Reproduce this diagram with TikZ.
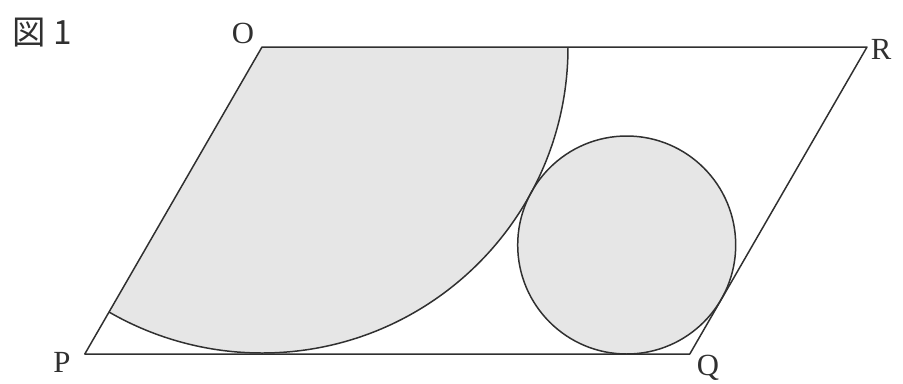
\documentclass[tikz,border=0pt]{standalone}
\usepackage{fontspec}
\setmainfont{Liberation Serif}
\newfontfamily\cjk{Noto Sans CJK JP}
\definecolor{areafill}{HTML}{E6E6E6}
\definecolor{ink}{HTML}{303030}
\begin{document}
\begin{tikzpicture}[x=0.02cm,y=-0.02cm,
  edge/.style={draw=ink,line width=0.85pt,line join=round},
  ptlabel/.style={font=\fontsize{17.5}{18}\selectfont,text=ink,inner sep=0pt}]
\useasboundingbox (0,0) rectangle (903,383);
\coordinate (O) at (262,47);
\coordinate (R) at (867,47);
\coordinate (P) at (84.8,354);
\coordinate (Q) at (689.8,354);
\coordinate (C) at (626.7,245);
% shaded regions
\fill[areafill] (O) -- ++(306,0) arc[start angle=0,end angle=120,radius=306] -- cycle;
\fill[areafill] (C) circle[radius=109];
% outlines
\draw[edge] (O) -- (R) -- (Q) -- (P) -- cycle;
\draw[edge] (O) ++(306,0) arc[start angle=0,end angle=120,radius=306];
\draw[edge] (C) circle[radius=109];
% labels
\node[ptlabel] (lO) at (243,33) {O};
\node[ptlabel] (lR) at (881,49) {R};
\node[ptlabel] (lP) at (62,362) {P};
\node[ptlabel] (lQ) at (708,368) {Q};
\node[font=\cjk\fontsize{19}{19}\selectfont,text=ink,inner sep=0pt,anchor=west] (fig) at (12,33) {図 1};
\end{tikzpicture}
\end{document}
